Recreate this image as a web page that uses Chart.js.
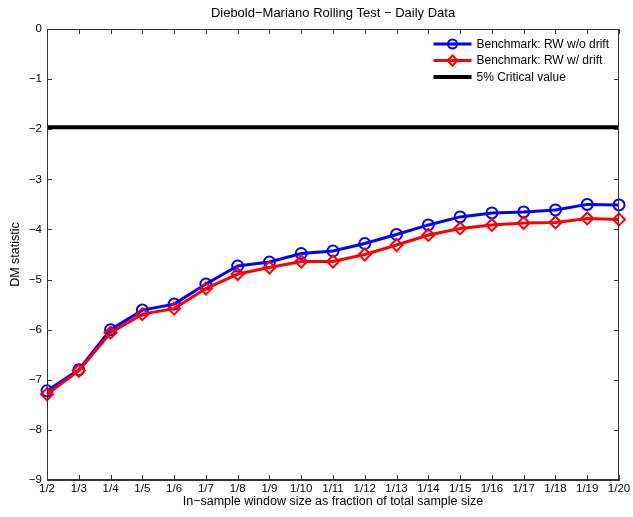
<!DOCTYPE html>
<html>
<head>
<meta charset="utf-8">
<script src="https://cdn.jsdelivr.net/npm/chart.js@4.4.0/dist/chart.umd.min.js"></script>
<style>
  html, body { margin: 0; padding: 0; background: #fff; }
  #wrap { width: 633px; height: 517px; }
</style>
</head>
<body>
<div id="wrap"><canvas id="dm-chart"></canvas></div>
<script>
Chart.defaults.font.family = "'Liberation Sans', Arial, sans-serif";
Chart.defaults.font.size = 12;
Chart.defaults.color = '#000';

// window sizes (fraction of the total sample)
const windows = ['1/2', '1/3', '1/4', '1/5', '1/6', '1/7', '1/8', '1/9', '1/10', '1/11',
  '1/12', '1/13', '1/14', '1/15', '1/16', '1/17', '1/18', '1/19', '1/20'];

// DM statistic, benchmark random walk without drift
const rwNoDrift = [-7.22, -6.80, -6.00, -5.61, -5.49, -5.09, -4.73, -4.65, -4.48, -4.43,
  -4.28, -4.10, -3.91, -3.75, -3.67, -3.65, -3.61, -3.50, -3.51];

// DM statistic, benchmark random walk with drift
const rwDrift = [-7.29, -6.82, -6.06, -5.69, -5.58, -5.18, -4.89, -4.76, -4.64, -4.64,
  -4.50, -4.31, -4.11, -3.98, -3.91, -3.87, -3.86, -3.78, -3.80];

const critValue = -1.96;

const seriesLabels = ['Benchmark: RW w/o drift', 'Benchmark: RW w/ drift', '5% Critical value'];
const chartTitle = 'Diebold\u2212Mariano Rolling Test \u2212 Daily Data';

// matlab style box, inward ticks, title over the axes and legend inside them
const matlabAxes = {
  id: 'matlabAxes',
  afterDraw(chart) {
    const { ctx, chartArea: a, scales } = chart;
    const len = 5;
    ctx.save();
    ctx.strokeStyle = '#333';
    ctx.lineWidth = 1;
    ctx.strokeRect(a.left + 0.5, a.top + 0.5, a.width - 1, a.height - 1);
    ctx.beginPath();
    scales.x.ticks.forEach((t, i) => {
      const px = Math.round(scales.x.getPixelForTick(i)) + 0.5;
      ctx.moveTo(px, a.bottom); ctx.lineTo(px, a.bottom - len);
      ctx.moveTo(px, a.top); ctx.lineTo(px, a.top + len);
    });
    scales.y.ticks.forEach((t, i) => {
      const py = Math.round(scales.y.getPixelForTick(i)) + 0.5;
      ctx.moveTo(a.left, py); ctx.lineTo(a.left + len, py);
      ctx.moveTo(a.right, py); ctx.lineTo(a.right - len, py);
    });
    ctx.stroke();

    // title, centred on the axes box
    ctx.fillStyle = '#000';
    ctx.font = "13px 'Liberation Sans', Arial, sans-serif";
    ctx.textAlign = 'center';
    ctx.textBaseline = 'middle';
    ctx.fillText(chartTitle, (a.left + a.right) / 2, 13);

    // legend
    ctx.font = "12px 'Liberation Sans', Arial, sans-serif";
    const sets = chart.data.datasets;
    const textW = Math.max(...sets.map(d => ctx.measureText(d.label).width));
    const x0 = a.right - 10 - textW - 43;
    sets.forEach((d, i) => {
      const y = a.top + 15 + i * 16.5;
      ctx.strokeStyle = d.borderColor;
      ctx.lineWidth = d.borderWidth;
      ctx.beginPath();
      ctx.moveTo(x0, y); ctx.lineTo(x0 + 38, y);
      ctx.stroke();
      if (d.pointStyle && d.pointRadius > 0) {
        ctx.fillStyle = 'rgba(255,255,255,0)';
        ctx.strokeStyle = d.borderColor;
        ctx.lineWidth = d.pointBorderWidth;
        Chart.helpers.drawPoint(ctx, {
          pointStyle: d.pointStyle,
          radius: d.pointRadius - 1,
          borderWidth: d.pointBorderWidth
        }, x0 + 19, y);
      }
      ctx.fillStyle = '#000';
      ctx.textBaseline = 'middle';
      ctx.textAlign = 'left';
      ctx.fillText(d.label, x0 + 43, y + 0.5);
    });
    ctx.restore();
  }
};

const minus = v => String(v).replace('-', '\u2212');

new Chart(document.getElementById('dm-chart'), {
  type: 'line',
  data: {
    labels: windows,
    datasets: [
      {
        label: seriesLabels[0],
        data: rwNoDrift,
        borderColor: '#0000ff',
        backgroundColor: '#ffffff',
        borderWidth: 3,
        pointStyle: 'circle',
        pointRadius: 5.5,
        pointBorderWidth: 2,
        pointBackgroundColor: 'rgba(255,255,255,0)',
        order: 2
      },
      {
        label: seriesLabels[1],
        data: rwDrift,
        borderColor: '#ff0000',
        backgroundColor: '#ffffff',
        borderWidth: 3,
        pointStyle: 'rectRot',
        pointRadius: 6,
        pointBorderWidth: 2,
        pointBackgroundColor: 'rgba(255,255,255,0)',
        order: 1
      },
      {
        label: seriesLabels[2],
        data: [{ x: windows[0], y: critValue }, { x: windows[windows.length - 1], y: critValue }],
        borderColor: '#000000',
        borderWidth: 4,
        pointRadius: 0,
        order: 3
      }
    ]
  },
  options: {
    responsive: true,
    maintainAspectRatio: false,
    animation: false,
    layout: { padding: { left: 0, right: 14, top: 29, bottom: 0 } },
    scales: {
      x: {
        offset: false,
        grid: { display: false, drawTicks: false },
        border: { display: true, color: '#333' },
        ticks: { padding: 2, maxRotation: 0, autoSkip: false, color: '#000', font: { size: 11.5 } },
        title: {
          display: true,
          text: 'In\u2212sample window size as fraction of total sample size',
          font: { size: 12.5 },
          padding: { top: 0, bottom: 8 },
          color: '#000'
        },
        afterFit: (s) => { s.height = 37; }
      },
      y: {
        min: -9,
        max: 0,
        grid: { display: false, drawTicks: false },
        border: { display: true, color: '#333' },
        ticks: { stepSize: 1, padding: 5, color: '#000', font: { size: 11.5 }, callback: v => minus(v) },
        title: {
          display: true,
          text: 'DM statistic',
          font: { size: 12.5 },
          padding: { top: 8, bottom: 0 },
          color: '#000'
        },
        afterFit: (s) => { s.width = 47; }
      }
    },
    plugins: {
      legend: { display: false },
      tooltip: { enabled: false },
      title: { display: false }
    }
  },
  plugins: [matlabAxes]
});
</script>
</body>
</html>
